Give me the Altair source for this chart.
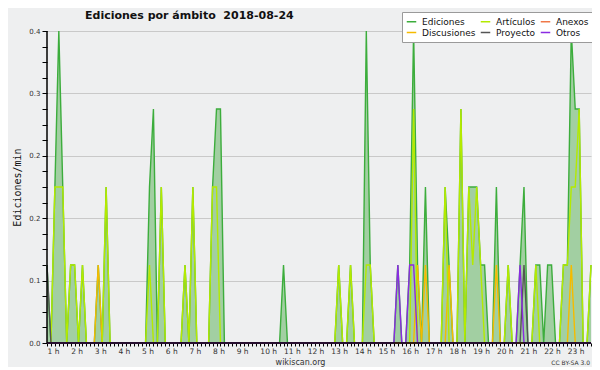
import altair as alt
import pandas as pd

# 10-minute points from 1:00 h to 24:00 h (one row of 6 per hour)
ediciones = [
    0.1, 0, 0.2, 0.4, 0.2, 0,      # 1 h
    0.1, 0.1, 0, 0.1, 0, 0,        # 2 h
    0, 0.1, 0, 0.2, 0, 0,          # 3 h
    0, 0, 0, 0, 0, 0,              # 4 h
    0, 0, 0.2, 0.3, 0, 0.2,        # 5 h
    0, 0, 0, 0, 0, 0.1,            # 6 h
    0, 0.2, 0, 0, 0, 0,            # 7 h
    0.2, 0.3, 0.3, 0, 0, 0,        # 8 h
    0, 0, 0, 0, 0, 0,              # 9 h
    0, 0, 0, 0, 0, 0,              # 10 h
    0.1, 0, 0, 0, 0, 0,            # 11 h
    0, 0, 0, 0, 0, 0,              # 12 h
    0, 0, 0.1, 0, 0, 0.1,          # 13 h
    0, 0, 0, 0.4, 0.1, 0,          # 14 h
    0, 0, 0, 0, 0, 0.1,            # 15 h
    0, 0, 0.1, 0.4, 0.1, 0,        # 16 h
    0.2, 0, 0, 0, 0, 0.2,          # 17 h
    0.1, 0, 0, 0.3, 0, 0.2,        # 18 h
    0.2, 0.2, 0.1, 0.1, 0, 0,      # 19 h
    0.2, 0, 0, 0.1, 0, 0,          # 20 h
    0.1, 0.2, 0, 0, 0.1, 0.1,      # 21 h
    0, 0.1, 0.1, 0, 0, 0.1,        # 22 h
    0.1, 0.4, 0.3, 0.3, 0, 0,      # 23 h
    0.1,                           # 24 h
]
articulos = [
    0, 0, 0.2, 0.2, 0.2, 0,
    0.1, 0.1, 0, 0.1, 0, 0,
    0, 0, 0, 0.2, 0, 0,
    0, 0, 0, 0, 0, 0,
    0, 0, 0.1, 0, 0, 0.2,
    0, 0, 0, 0, 0, 0.1,
    0, 0.2, 0, 0, 0, 0,
    0.2, 0.2, 0, 0, 0, 0,
    0, 0, 0, 0, 0, 0,
    0, 0, 0, 0, 0, 0,
    0, 0, 0, 0, 0, 0,
    0, 0, 0, 0, 0, 0,
    0, 0, 0.1, 0, 0, 0.1,
    0, 0, 0, 0.1, 0.1, 0,
    0, 0, 0, 0, 0, 0,
    0, 0, 0, 0.3, 0, 0,
    0, 0, 0, 0, 0, 0.2,
    0, 0, 0, 0.3, 0, 0.2,
    0.1, 0.2, 0.1, 0, 0, 0,
    0, 0, 0, 0.1, 0, 0,
    0, 0, 0, 0, 0.1, 0,
    0, 0, 0, 0, 0, 0.1,
    0.1, 0.2, 0.2, 0.3, 0, 0,
    0.1,
]
discusiones = [
    0, 0, 0, 0, 0, 0,
    0, 0, 0, 0, 0, 0,
    0, 0.1, 0, 0, 0, 0,
    0, 0, 0, 0, 0, 0,
    0, 0, 0, 0, 0, 0,
    0, 0, 0, 0, 0, 0,
    0, 0, 0, 0, 0, 0,
    0, 0, 0, 0, 0, 0,
    0, 0, 0, 0, 0, 0,
    0, 0, 0, 0, 0, 0,
    0, 0, 0, 0, 0, 0,
    0, 0, 0, 0, 0, 0,
    0, 0, 0, 0, 0, 0,
    0, 0, 0, 0, 0, 0,
    0, 0, 0, 0, 0, 0,
    0, 0, 0, 0, 0.1, 0,
    0.1, 0, 0, 0, 0, 0,
    0.1, 0, 0, 0, 0, 0,
    0, 0, 0, 0, 0, 0,
    0.1, 0, 0, 0, 0, 0,
    0, 0, 0, 0, 0, 0,
    0, 0, 0, 0, 0, 0,
    0, 0.1, 0, 0, 0, 0,
    0,
]
proyecto = [0.1] + [0] * 120 + [0.1] + [0] * 17
otros = [0] * 89 + [0.1, 0, 0, 0.1, 0.1] + [0] * 26 + [0.1] + [0] * 18
anexos = [0] * 139

series = {
    "Ediciones": ediciones,
    "Discusiones": discusiones,
    "Artículos": articulos,
    "Proyecto": proyecto,
    "Anexos": anexos,
    "Otros": otros,
}
# legend is filled column by column: (Ediciones, Discusiones), (Artículos, Proyecto), (Anexos, Otros)
legend_order = ["Ediciones", "Discusiones", "Artículos", "Proyecto", "Anexos", "Otros"]
legend_colors = ["#3cad3c", "#f5bb00", "#b4ea00", "#555555", "#f07848", "#8a2be2"]

hours = [1 + j / 6 for j in range(len(ediciones))]
x_ticks = [1 + k / 6 for k in range(139)]
y_ticks = [round(0.02 * k, 2) for k in range(21)]

rows = []
for name, vals in series.items():
    for h, v in zip(hours, vals):
        rows.append({"hora": h, "valor": v, "serie": name})
df = pd.DataFrame(rows)
df_total = df[df.serie == "Ediciones"]
df_rest = df[df.serie != "Ediciones"]

FONT = "DejaVu Sans"

x_enc = alt.X(
    "hora:Q",
    scale=alt.Scale(domain=[1, 24], nice=False, zero=False),
    axis=alt.Axis(
        values=x_ticks,
        labelExpr="abs(datum.value - round(datum.value)) < 0.01 && datum.value < 23.5 ? round(datum.value) + ' h' : ''",
        title=None, grid=False, domain=False,
        tickColor="black", tickSize=3, tickWidth=1,
        labelFont=FONT, labelFontSize=7.5, labelColor="#333",
        labelAlign="left", labelBaseline="top", labelPadding=1, labelAngle=0,
        labelOverlap=False, labelFlush=False, labelBound=False,
    ),
)
y_enc = alt.Y(
    "valor:Q",
    scale=alt.Scale(domain=[0, 0.4], nice=False),
    axis=alt.Axis(
        values=y_ticks,
        labelExpr="abs(datum.value / 0.08 - round(datum.value / 0.08)) < 0.01 ? format(datum.value, '.1f') : ''",
        grid=True, gridColor="#c9c9c9", gridWidth=1,
        gridOpacity={"condition": {"test": "abs(datum.value / 0.08 - round(datum.value / 0.08)) < 0.01", "value": 1}, "value": 0},
        domain=False, tickColor="black", tickSize=5, tickWidth=1,
        labelFont=FONT, labelFontSize=7, labelColor="#333", labelPadding=2,
        labelOverlap=False, labelFlush=False,
        title="Ediciones/min", titleFont="DejaVu Sans Mono", titleFontSize=10,
        titleFontWeight="normal", titleColor="#111", titlePadding=6,
    ),
)

color_enc = alt.Color(
    "serie:N",
    scale=alt.Scale(domain=legend_order, range=legend_colors),
    legend=alt.Legend(
        title=None, orient="none", legendX=355, legendY=-19, columns=3,
        symbolType="stroke", symbolSize=90, symbolStrokeWidth=1.5,
        labelFont=FONT, labelFontSize=9, labelColor="#111", labelOffset=5,
        fillColor="white", strokeColor="#9a9a9a", padding=4,
        rowPadding=0, columnPadding=1, zindex=1,
    ),
)

area = alt.Chart(df_total).mark_area(color="#a2cfa2", opacity=1).encode(x=x_enc, y=y_enc)
line_total = alt.Chart(df_total).mark_line(strokeWidth=1.4).encode(x=x_enc, y=y_enc, color=color_enc)
line_rest = alt.Chart(df_rest).mark_line(strokeWidth=1.4).encode(x=x_enc, y=y_enc, color=color_enc)

baseline_df = pd.DataFrame({"hora": [1], "valor": [0]})
x_axis_line = alt.Chart(baseline_df).mark_rule(color="black", strokeWidth=1.5).encode(y=y_enc)
y_axis_line = alt.Chart(baseline_df).mark_rule(color="black", strokeWidth=1.5).encode(x=x_enc)

one = pd.DataFrame({"v": [0]})
shadow = alt.Chart(one).mark_rect(color="#6e6e6e").encode(
    x=alt.value(359), x2=alt.value(550), y=alt.value(-15), y2=alt.value(11)
)

title_txt = alt.Chart(pd.DataFrame({"t": ["Ediciones por ámbito\u00a0 2018-08-24"]})).mark_text(
    align="left", baseline="alphabetic", font=FONT, fontSize=11, fontWeight="bold", color="#111"
).encode(text="t:N", x=alt.value(38), y=alt.value(-12.5))

footer = alt.Chart(pd.DataFrame({"t": ["wikiscan.org"]})).mark_text(
    align="center", baseline="alphabetic", font=FONT, fontSize=8, color="#333"
).encode(text="t:N", x=alt.value(253.5), y=alt.value(333.5))

license_txt = alt.Chart(pd.DataFrame({"t": ["CC BY-SA 3.0"]})).mark_text(
    align="right", baseline="alphabetic", font=FONT, fontSize=6, color="#333"
).encode(text="t:N", x=alt.value(543), y=alt.value(334))

chart = alt.layer(
    area, line_total, line_rest, x_axis_line, y_axis_line, shadow,
    title_txt, footer, license_txt,
).properties(
    width=544, height=312,
    padding={"left": 39, "top": 23, "right": 1, "bottom": 24},
    autosize="none",
    background="#eeeff0",
).configure_view(strokeWidth=0)

chart.save("out.html", embed_options={"renderer": "svg", "actions": False})
